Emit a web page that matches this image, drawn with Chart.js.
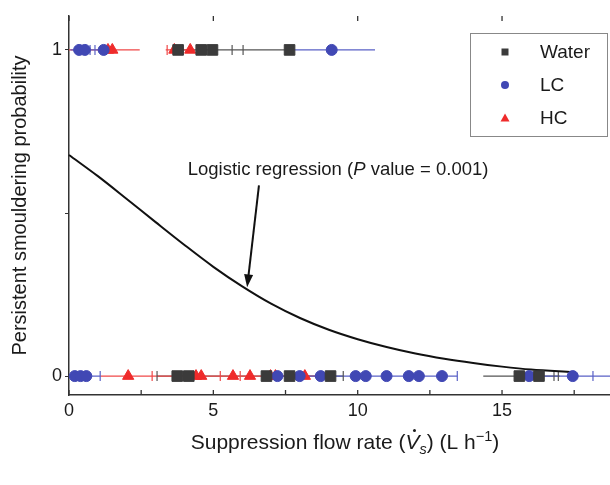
<!DOCTYPE html>
<html lang="en">
<head>
    <meta charset="UTF-8">
    <title>Persistent smouldering probability</title>
    <script src="https://cdn.jsdelivr.net/npm/chart.js"></script>
    <style>
        body {
            margin: 0;
            background: white;
        }
        canvas {
            display: block;
        }
    </style>
</head>
<body>
    <canvas id="probChart" width="610" height="485"></canvas>
    <script>
        // Outcomes: 1 = persistent smouldering, 0 = extinguished
        let waterTop = [3.78, 4.58, 4.97, 7.64];
        let lcTop = [0.35, 0.55, 1.2, 9.1];
        let hcTop = [1.35, 1.5, 3.65, 4.2];

        let waterBottom = [3.75, 4.15, 6.84, 7.64, 9.06, 15.6, 16.28];
        let lcBottom = [0.2, 0.4, 0.6, 7.22, 7.99, 8.72, 9.93, 10.28, 11.0, 11.77, 12.12, 12.92, 15.94, 17.45];
        let hcBottom = [2.05, 4.4, 4.58, 5.68, 6.27, 6.98, 7.15, 8.17];

        // range lines behind the points, [from, to]
        let waterTopRange = [[3.78, 7.64]];
        let lcTopRange = [[0.05, 1.5], [7.64, 10.6]];
        let hcTopRange = [[0, 2.45], [3.35, 4.35]];
        let waterBottomRange = [[3.05, 9.5], [14.35, 17.0]];
        let lcBottomRange = [[0.05, 1.08], [7.0, 13.45], [15.94, 18.8]];
        let hcBottomRange = [[1.08, 8.6]];

        // small vertical marks on the range lines
        let waterTopMarks = [5.65, 6.03];
        let lcTopMarks = [0.73, 0.9];
        let hcTopMarks = [3.4];
        let waterBottomMarks = [3.05, 6.7, 9.5, 16.8, 16.95];
        let lcBottomMarks = [1.08, 13.45, 18.15];
        let hcBottomMarks = [2.88, 5.24, 5.93];

        // fitted logistic curve
        let curveX = [0, 1, 2, 3, 4, 5, 6, 7, 8, 9, 10, 11, 12, 13, 14, 15, 16, 17.45];
        let curveY = [0.678, 0.613, 0.543, 0.472, 0.402, 0.335, 0.275, 0.222, 0.178, 0.142, 0.113, 0.089, 0.069, 0.053, 0.040, 0.029, 0.020, 0.012];

        let arrowFrom = [6.58, 0.585];
        let arrowTo = [6.17, 0.272];

        let xTicks = [0, 5, 10, 15];
        let xMinorTicks = [0, 2.5, 5, 7.5, 10, 12.5, 15, 17.5];
        let yTicks = [0, 0.5, 1];

        const WATER = "#3b3b3b";
        const LC = "#4148b4";
        const HC = "#ef2b2b";
        const FONT = "'Liberation Sans', Arial, sans-serif";

        function pts(xs, y) {
            return xs.map(x => ({ x: x, y: y }));
        }

        function ranges(segs, y) {
            let out = [];
            segs.forEach(s => {
                out.push({ x: s[0], y: y }, { x: s[1], y: y }, { x: s[1], y: null });
            });
            return out;
        }

        function rangeSet(segs, y, color) {
            return {
                type: "line",
                data: ranges(segs, y),
                borderColor: color,
                borderWidth: 1.2,
                pointRadius: 0,
                spanGaps: false,
                order: 5
            };
        }

        function markSet(xs, y, color) {
            return {
                type: "scatter",
                data: pts(xs, y),
                pointStyle: "line",
                rotation: 90,
                radius: 5,
                borderColor: color,
                borderWidth: 1.2,
                order: 4
            };
        }

        function pointSet(xs, y, color, style, r) {
            return {
                type: "scatter",
                data: pts(xs, y),
                pointStyle: style,
                radius: r,
                backgroundColor: color,
                borderColor: color,
                borderWidth: 1,
                order: 2
            };
        }

        function drawParts(ctx, parts, cx, y) {
            let total = 0;
            parts.forEach(p => { ctx.font = p[1]; total += ctx.measureText(p[0]).width; });
            let x = cx - total / 2;
            let out = [];
            parts.forEach(p => {
                ctx.font = p[1];
                ctx.fillText(p[0], x, y + (p[2] || 0));
                out.push(x);
                x += ctx.measureText(p[0]).width;
            });
            return out;
        }

        // axis ticks inside the plot, legend box, arrow and the text labels
        const decorations = {
            id: "decorations",
            afterDraw(chart) {
                let ctx = chart.ctx;
                let xs = chart.scales.x;
                let ys = chart.scales.y;
                let area = chart.chartArea;
                ctx.save();

                ctx.strokeStyle = "#333";
                ctx.lineWidth = 1.3;
                xMinorTicks.forEach(v => {
                    let px = xs.getPixelForValue(v);
                    ctx.beginPath();
                    ctx.moveTo(px, area.bottom);
                    ctx.lineTo(px, area.bottom - 5);
                    ctx.stroke();
                });
                xTicks.forEach(v => {
                    let px = xs.getPixelForValue(v);
                    ctx.beginPath();
                    ctx.moveTo(px, area.top);
                    ctx.lineTo(px, area.top + 5);
                    ctx.stroke();
                });

                // arrow
                let x1 = xs.getPixelForValue(arrowFrom[0]), y1 = ys.getPixelForValue(arrowFrom[1]);
                let x2 = xs.getPixelForValue(arrowTo[0]), y2 = ys.getPixelForValue(arrowTo[1]);
                let ang = Math.atan2(y2 - y1, x2 - x1);
                let c = Math.cos(ang), s = Math.sin(ang);
                ctx.strokeStyle = "#111";
                ctx.fillStyle = "#111";
                ctx.lineWidth = 2;
                ctx.beginPath();
                ctx.moveTo(x1, y1);
                ctx.lineTo(x2 - 8 * c, y2 - 8 * s);
                ctx.stroke();
                ctx.beginPath();
                ctx.moveTo(x2, y2);
                ctx.lineTo(x2 - 13 * c + 4.5 * s, y2 - 13 * s - 4.5 * c);
                ctx.lineTo(x2 - 13 * c - 4.5 * s, y2 - 13 * s + 4.5 * c);
                ctx.closePath();
                ctx.fill();

                // annotation text with italic P
                ctx.fillStyle = "#1a1a1a";
                ctx.textBaseline = "alphabetic";
                ctx.textAlign = "left";
                let af = "18.5px " + FONT;
                drawParts(ctx, [["Logistic regression (", af], ["P", "italic " + af], [" value = 0.001)", af]],
                    xs.getPixelForValue(9.32), ys.getPixelForValue(0.615));

                // x axis title with dotted V, subscript s and superscript -1
                let tf = "21px " + FONT;
                let tparts = [
                    ["Suppression flow rate (", tf],
                    ["V", "italic " + tf],
                    ["s", "italic 14.5px " + FONT, 5],
                    [") (L h", tf],
                    ["\u22121", "14.5px " + FONT, -8],
                    [")", tf]
                ];
                let ty = 449;
                let xsPos = drawParts(ctx, tparts, 345, ty);
                ctx.beginPath();
                ctx.arc(xsPos[1] + 9, ty - 18.5, 1.5, 0, Math.PI * 2);
                ctx.fill();

                // legend
                let lx = area.right - 140, ly = area.top + 17;
                ctx.fillStyle = "white";
                ctx.fillRect(lx, ly, 138, 104);
                ctx.strokeStyle = "#888";
                ctx.lineWidth = 1;
                ctx.strokeRect(lx + 0.5, ly + 0.5, 137, 103);
                let items = [["Water", WATER, "rect"], ["LC", LC, "circle"], ["HC", HC, "triangle"]];
                items.forEach((it, i) => {
                    let cy = ly + 19 + i * 33;
                    let cx = lx + 35;
                    ctx.fillStyle = it[1];
                    ctx.beginPath();
                    if (it[2] === "rect") {
                        ctx.rect(cx - 3.5, cy - 3.5, 7, 7);
                    } else if (it[2] === "circle") {
                        ctx.arc(cx, cy, 4, 0, Math.PI * 2);
                    } else {
                        ctx.moveTo(cx, cy - 4.5);
                        ctx.lineTo(cx + 4.5, cy + 3.5);
                        ctx.lineTo(cx - 4.5, cy + 3.5);
                        ctx.closePath();
                    }
                    ctx.fill();
                    ctx.fillStyle = "#1a1a1a";
                    ctx.font = "19px " + FONT;
                    ctx.textBaseline = "middle";
                    ctx.fillText(it[0], lx + 70, cy + 1);
                });
                ctx.restore();
            }
        };

        new Chart(document.getElementById("probChart").getContext("2d"), {
            type: "scatter",
            data: {
                datasets: [
                    rangeSet(lcTopRange, 1, "#5a61c6"),
                    rangeSet(hcTopRange, 1, "#f04848"),
                    rangeSet(waterTopRange, 1, "#555"),
                    rangeSet(lcBottomRange, 0, "#5a61c6"),
                    rangeSet(hcBottomRange, 0, "#f04848"),
                    rangeSet(waterBottomRange, 0, "#555"),
                    markSet(lcTopMarks, 1, "#5a61c6"),
                    markSet(hcTopMarks, 1, "#f04848"),
                    markSet(waterTopMarks, 1, "#555"),
                    markSet(lcBottomMarks, 0, "#5a61c6"),
                    markSet(hcBottomMarks, 0, "#f04848"),
                    markSet(waterBottomMarks, 0, "#555"),
                    {
                        type: "line",
                        data: curveX.map((x, i) => ({ x: x, y: curveY[i] })),
                        borderColor: "#111",
                        borderWidth: 2,
                        pointRadius: 0,
                        cubicInterpolationMode: "monotone",
                        order: 3
                    },
                    pointSet(waterTop, 1, WATER, "rect", 7.5),
                    pointSet(lcTop, 1, LC, "circle", 5.5),
                    pointSet(hcTop, 1, HC, "triangle", 6.5),
                    pointSet(waterBottom, 0, WATER, "rect", 7.5),
                    pointSet(lcBottom, 0, LC, "circle", 5.5),
                    pointSet(hcBottom, 0, HC, "triangle", 6.5)
                ]
            },
            options: {
                responsive: false,
                animation: false,
                clip: false,
                layout: { autoPadding: false, padding: { top: 16, right: 0, left: 0, bottom: 0 } },
                plugins: {
                    legend: { display: false },
                    tooltip: { enabled: false }
                },
                scales: {
                    x: {
                        type: "linear",
                        min: 0,
                        max: 18.74,
                        afterBuildTicks: scale => { scale.ticks = xTicks.map(v => ({ value: v })); },
                        afterFit: scale => { scale.height = 90; },
                        grid: { display: true, drawOnChartArea: false, drawTicks: false },
                        border: { display: true, color: "#333", width: 1.5 },
                        ticks: {
                            padding: 5,
                            color: "#1a1a1a",
                            font: { family: FONT, size: 18 }
                        }
                    },
                    y: {
                        type: "linear",
                        min: -0.058,
                        max: 1.104,
                        afterBuildTicks: scale => { scale.ticks = yTicks.map(v => ({ value: v })); },
                        afterFit: scale => { scale.width = 69; },
                        grid: { display: true, drawOnChartArea: false, drawTicks: true, tickLength: 4, color: "#333" },
                        border: { display: true, color: "#333", width: 1.5 },
                        ticks: {
                            padding: 3,
                            color: "#1a1a1a",
                            font: { family: FONT, size: 18 },
                            callback: v => (v === 0.5 ? "" : v)
                        },
                        title: {
                            display: true,
                            text: "Persistent smouldering probability",
                            color: "#1a1a1a",
                            font: { family: FONT, size: 20 },
                            padding: { top: 8, bottom: 0 }
                        }
                    }
                }
            },
            plugins: [decorations]
        });
    </script>
</body>
</html>
